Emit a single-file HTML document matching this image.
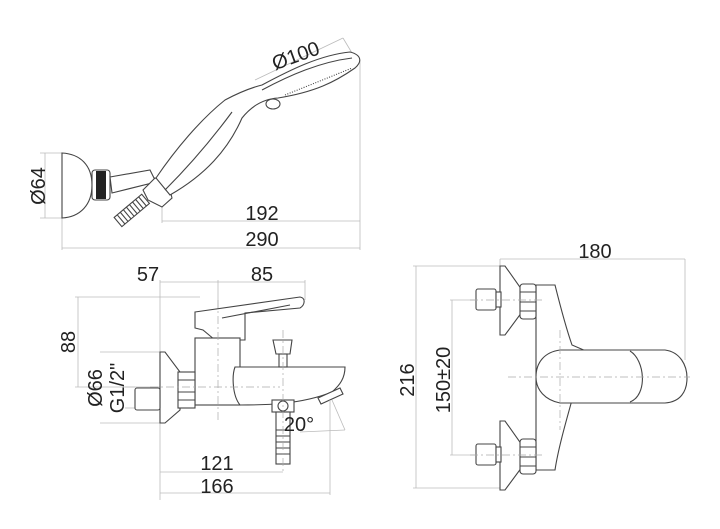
<!DOCTYPE html>
<html><head><meta charset="utf-8"><style>
html,body{margin:0;padding:0;background:#fff}
svg{display:block}
text{font-family:"Liberation Sans",sans-serif;font-size:20px;fill:#222}
.o{fill:#fff;stroke:#444;stroke-width:1.1}
.n{fill:none;stroke:#444;stroke-width:1.1}
.d{fill:none;stroke:#bbb;stroke-width:0.8}
.c{fill:none;stroke:#aaa;stroke-width:0.7;stroke-dasharray:8 3 2 3}
</style></head><body>
<svg width="720" height="529" viewBox="0 0 720 529" xmlns="http://www.w3.org/2000/svg">
<!-- ===== Hand shower ===== -->
<line class="d" x1="40" y1="153" x2="62" y2="153"/><line class="d" x1="40" y1="218" x2="62" y2="218"/>
<line class="d" x1="45" y1="153" x2="45" y2="218"/>
<text transform="translate(45,186) rotate(-90)" text-anchor="middle">Ø64</text>
<line class="d" x1="62" y1="218" x2="62" y2="250"/>
<line class="d" x1="162" y1="195" x2="162" y2="223"/>
<line class="d" x1="360" y1="60" x2="360" y2="250"/>
<line class="d" x1="162" y1="221" x2="360" y2="221"/>
<line class="d" x1="62" y1="248" x2="360" y2="248"/>
<text x="262" y="220" text-anchor="middle">192</text>
<text x="262" y="246" text-anchor="middle">290</text>
<line class="d" x1="255" y1="80" x2="343" y2="38"/>
<line class="d" x1="343" y1="38" x2="355" y2="58"/>
<text transform="translate(298,62) rotate(-20)" text-anchor="middle">Ø100</text>
<!-- flange -->
<path class="o" d="M62,153 C80,154 92,165 92,185 C92,205 80,217 62,218 Z"/>
<rect x="92" y="170" width="18" height="30" rx="3" class="o"/>
<rect x="96" y="171" width="10" height="28" fill="#222"/>
<!-- arm -->
<path class="o" d="M110,177 L150,170 L156,182 L112,193 Z"/>
<!-- hose -->
<g transform="translate(118,222) rotate(-40)">
<rect x="0" y="-6" width="36" height="12" class="o"/>
<path class="n" d="M4,-6v12M8,-6v12M12,-6v12M16,-6v12M20,-6v12M24,-6v12M28,-6v12M32,-6v12"/>
</g>
<!-- holder -->
<path class="o" d="M143,190 L155,178 L168,182 L172,198 L162,207 L148,200 Z"/>
<!-- handle -->
<path class="o" d="M156,178 C175,150 200,120 225,100 C240,92 250,88 262,85 C290,70 320,55 350,52 C362,55 362,62 355,68 C335,82 315,92 278,98 C262,99 250,108 242,118 C228,150 205,175 170,195 Z"/>
<path class="n" d="M262,90 C290,75 320,62 352,58"/>
<path class="n" d="M285,95 C310,85 335,75 352,68" stroke-dasharray="1 1.5"/>
<ellipse cx="273" cy="104" rx="7" ry="5" class="o"/>
<path class="n" d="M165,190 C195,160 215,135 232,112" stroke="#999"/>

<!-- ===== Mixer side view ===== -->
<line class="d" x1="160" y1="280" x2="160" y2="500"/>
<line class="d" x1="218" y1="280" x2="218" y2="340"/>
<line class="d" x1="305" y1="280" x2="305" y2="300"/>
<line class="d" x1="160" y1="282" x2="305" y2="282"/>
<text x="148" y="281" text-anchor="middle">57</text>
<text x="262" y="281" text-anchor="middle">85</text>
<line class="d" x1="75" y1="297" x2="200" y2="297"/>
<line class="d" x1="75" y1="387" x2="160" y2="387"/>
<line class="d" x1="78" y1="297" x2="78" y2="387"/>
<text transform="translate(75,342) rotate(-90)" text-anchor="middle">88</text>
<line class="d" x1="100" y1="352" x2="160" y2="352"/>
<line class="d" x1="100" y1="423" x2="160" y2="423"/>
<line class="d" x1="125" y1="387" x2="135" y2="387"/>
<line class="d" x1="125" y1="408" x2="135" y2="408"/>
<text transform="translate(102,388) rotate(-90)" text-anchor="middle">Ø66</text>
<text transform="translate(124,388) rotate(-90)" text-anchor="middle">G1/2"</text>
<path class="o" d="M195,312 L300,297 C306,298 305,305 300,308 L245,313 L245,340 L215,340 L203,330 L195,328 Z"/>
<path class="n" d="M222,318 L290,305"/>
<rect x="195" y="338" width="45" height="67" class="o"/>
<path class="o" d="M160,352 L165,352 L180,372 L180,410 L165,423 L160,423 Z"/>
<rect x="178" y="372" width="17" height="36" class="o"/>
<path class="n" d="M178,380h17M178,392h17M178,400h17"/>
<rect x="135" y="388" width="25" height="22" rx="2" class="o"/>
<path class="o" d="M235,367 L345,367 C345,378 340,385 332,392 C300,405 262,405 240,405 C232,395 232,375 235,367 Z"/>
<path class="o" d="M318,398 L340,388 L343,394 L321,404 Z"/>
<path class="o" d="M273,340 L292,340 L290,354 L276,354 Z"/>
<rect x="279" y="354" width="8" height="13" class="o"/>
<rect x="272" y="400" width="22" height="12" class="o"/>
<circle cx="283" cy="406" r="5" class="n"/>
<rect x="276" y="412" width="14" height="52" class="o"/>
<path class="n" d="M276,430h14M276,436h14M276,442h14M276,448h14M276,454h14" stroke="#777"/>
<line class="c" x1="283" y1="330" x2="283" y2="474"/>
<line class="c" x1="218" y1="300" x2="218" y2="420"/>
<line class="c" x1="150" y1="387" x2="280" y2="387"/>
<line class="d" x1="332" y1="400" x2="345" y2="430"/>
<line class="d" x1="300" y1="432" x2="345" y2="430"/>
<text x="299" y="431" text-anchor="middle">20°</text>
<line class="d" x1="160" y1="472" x2="283" y2="472"/>
<line class="d" x1="160" y1="493" x2="330" y2="493"/>
<line class="d" x1="330" y1="400" x2="330" y2="495"/>
<text x="217" y="470" text-anchor="middle">121</text>
<text x="217" y="493" text-anchor="middle">166</text>

<!-- ===== Mixer front view ===== -->
<line class="d" x1="500" y1="259" x2="685" y2="259"/>
<line class="d" x1="500" y1="259" x2="500" y2="268"/>
<line class="d" x1="685" y1="259" x2="685" y2="360"/>
<text x="595" y="258" text-anchor="middle">180</text>
<line class="d" x1="413" y1="266" x2="500" y2="266"/>
<line class="d" x1="413" y1="488" x2="500" y2="488"/>
<line class="d" x1="416" y1="266" x2="416" y2="488"/>
<text transform="translate(414,380) rotate(-90)" text-anchor="middle">216</text>
<line class="d" x1="450" y1="300" x2="475" y2="300"/>
<line class="d" x1="450" y1="455" x2="475" y2="455"/>
<line class="d" x1="452" y1="300" x2="452" y2="455"/>
<text transform="translate(450,380) rotate(-90)" text-anchor="middle">150±20</text>
<path class="o" d="M536,285 L555,285 C560,305 565,325 572,345 L600,357 L572,400 C565,425 558,450 555,470 L536,470 Z"/>
<path class="o" d="M560,350 L665,350 C680,352 687,365 687,378 C687,392 680,402 665,403 L560,403 C545,400 536,390 536,377 C536,362 545,352 560,350 Z"/>
<path class="n" d="M630,351 C645,360 648,395 630,402"/>
<g id="fl">
<path class="o" d="M500,266 L505,266 L522,290 L522,312 L505,335 L500,335 Z"/>
<rect x="520" y="284" width="16" height="35" rx="3" class="o"/>
<path class="n" d="M520,292h16M520,302h16M520,311h16"/>
<rect x="476" y="289" width="20" height="21" rx="2" class="o"/>
<rect x="496" y="292" width="5" height="15" class="o"/>
</g>
<use href="#fl" transform="translate(0,155)"/>
<line class="c" x1="470" y1="300" x2="545" y2="300"/>
<line class="c" x1="470" y1="455" x2="545" y2="455"/>
<line class="c" x1="508" y1="377" x2="690" y2="377"/>
<line class="c" x1="560" y1="330" x2="560" y2="430"/>
</svg>
</body></html>
